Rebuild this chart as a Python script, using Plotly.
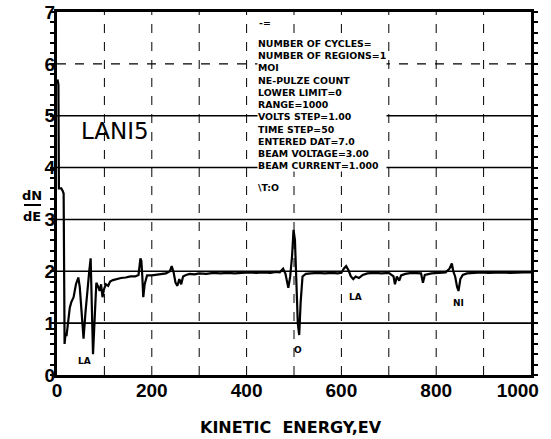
import plotly.graph_objects as go

# ---- data ----
energy = [1, 3, 4, 9, 12, 14, 16, 18, 20, 23, 27, 30, 35, 40, 45, 48, 52, 56, 60, 64, 68, 71, 73, 76, 79,
          83, 87, 90, 93, 96, 99, 103, 108, 112, 118, 125, 135, 145, 155, 165, 172, 176, 178, 180, 182,
          185, 190, 200, 210, 220, 230, 238, 242, 246, 250, 254, 258, 262, 266, 272, 280, 290, 300, 315,
          330, 345, 360, 375, 390, 405, 420, 435, 450, 462, 470, 477, 482, 488, 492, 496, 499, 502, 505,
          508, 511, 514, 518, 525, 535, 550, 565, 580, 592, 600, 605, 610, 615, 620, 625, 630, 637, 645,
          655, 670, 685, 700, 710, 713, 717, 722, 726, 735, 748, 760, 768, 772, 776, 790, 805, 820, 828,
          833, 836, 840, 844, 847, 851, 856, 865, 880, 895, 910, 925, 940, 955, 970, 985, 1000]
dnde = [5.7, 5.6, 3.6, 3.6, 3.55, 3.5, 0.6, 0.8, 0.75, 1.0, 1.3, 1.4, 1.5, 1.75, 1.88, 1.7, 1.2, 0.7, 1.2,
        1.7, 2.0, 2.25, 1.6, 0.4, 1.0, 1.78, 1.7, 1.62, 1.75, 1.5, 1.65, 1.75, 1.72, 1.8, 1.83, 1.85,
        1.87, 1.88, 1.9, 1.9, 1.93, 2.25, 2.2, 1.9, 1.5, 1.75, 1.92, 1.92, 1.93, 1.95, 1.96, 2.0, 2.1,
        1.98, 1.78, 1.72, 1.85, 1.75, 1.9, 1.93, 1.95, 1.94, 1.96, 1.95, 1.97, 1.96, 1.97, 1.96, 1.97,
        1.98, 1.97, 1.98, 1.97, 1.99, 1.98, 2.05, 1.95, 1.68, 1.9, 2.3, 2.8, 2.6, 1.8, 1.0, 0.77, 1.4,
        1.9, 1.95, 1.96, 1.97, 1.96, 1.97, 1.96, 1.97, 2.05, 2.1, 2.02, 1.9, 1.85, 1.9, 1.87, 1.93, 1.96,
        1.97, 1.96, 1.97, 1.9, 1.75, 1.9, 1.82, 1.92, 1.95, 1.97, 1.97, 1.96, 1.78, 1.93, 1.96, 1.97,
        1.98, 2.05, 2.15, 2.0, 1.9, 1.7, 1.62, 1.85, 1.93, 1.96, 1.97, 1.98, 1.97, 1.98, 1.98, 1.97,
        1.98, 1.98, 1.98]

x_tick_vals = [0, 200, 400, 600, 800, 1000]
x_tick_text = ["0", "200", "400", "600", "800", "1000\u00a0\u00a0\u00a0\u00a0\u00a0"]
x_grid_vals = [100, 200, 300, 400, 500, 600, 700, 800, 900]
y_tick_vals = [0, 1, 2, 3, 4, 5, 6, 7]
y_grid_solid = [1, 2, 3, 4, 5]
y_grid_dashed = [6]

info_lines = ["NUMBER OF CYCLES=", "NUMBER OF REGIONS=1", "MOI", "NE-PULZE COUNT", "LOWER LIMIT=0",
              "RANGE=1000", "VOLTS STEP=1.00", "TIME STEP=50", "ENTERED DAT=7.0",
              "BEAM VOLTAGE=3.00", "BEAM CURRENT=1.000"]
peak_labels = [("LA", 630, 1.5), ("NI", 846, 1.39), ("O", 508, 0.48), ("LA", 57, 0.27)]

# ---- figure ----
W, H = 551, 439
L, R, T, B = 57, 20, 12, 64
pw, ph = W - L - R, H - T - B
ymax = 7.0

def py(px):  # pixel row -> data y
    return ymax * (H - B - px) / ph

def px_x(px):  # pixel col -> data x
    return 1000 * (px - L) / pw

def pap_x(px):
    return (px - L) / pw

def pap_y(px):
    return (H - B - px) / ph

fig = go.Figure()
fig.add_trace(go.Scatter(x=energy, y=dnde, mode="lines",
                         line=dict(color="black", width=2.2), showlegend=False))

shapes = []
for v in x_grid_vals:
    shapes.append(dict(type="line", xref="x", yref="y", x0=v, x1=v, y0=0, y1=ymax,
                       line=dict(color="black", width=1, dash="dash"), layer="below"))
for v in y_grid_solid:
    shapes.append(dict(type="line", xref="x", yref="y", x0=0, x1=1000, y0=v, y1=v,
                       line=dict(color="black", width=1.6), layer="below"))
for v in y_grid_dashed:
    shapes.append(dict(type="line", xref="x", yref="y", x0=0, x1=1000, y0=v, y1=v,
                       line=dict(color="black", width=1.2, dash="dash"), layer="below"))
# fraction bar for dN/dE
shapes.append(dict(type="line", xref="paper", yref="paper",
                   x0=pap_x(24), x1=pap_x(41), y0=pap_y(205), y1=pap_y(205),
                   line=dict(color="black", width=2)))

txt_font = dict(family="DejaVu Sans", size=9.4, color="black")
annotations = []
annotations.append(dict(x=px_x(257), y=py(37), xref="x", yref="y",
                        text="<br>".join("<b>%s</b>" % t for t in info_lines),
                        showarrow=False, xanchor="left", yanchor="top", align="left",
                        font=txt_font, bgcolor="white", borderpad=0))
annotations.append(dict(x=px_x(257), y=py(22), xref="x", yref="y", text="<b>-=</b>", showarrow=False,
                        xanchor="left", yanchor="middle", font=txt_font))
annotations.append(dict(x=px_x(257), y=py(187), xref="x", yref="y", text="<b>\\T:O</b>", showarrow=False,
                        xanchor="left", yanchor="middle", font=txt_font, bgcolor="white", borderpad=0))
annotations.append(dict(x=122, y=4.7, xref="x", yref="y", text="LANI5", showarrow=False,
                        xanchor="center", yanchor="middle",
                        font=dict(family="DejaVu Sans", size=23, color="black")))
for t, xx, yy in peak_labels:
    annotations.append(dict(x=xx, y=yy, xref="x", yref="y", text="<b>%s</b>" % t, showarrow=False,
                            xanchor="center", yanchor="middle",
                            font=dict(family="DejaVu Sans", size=9, color="black")))
annotations.append(dict(x=pap_x(31.5), y=pap_y(195), xref="paper", yref="paper",
                        xanchor="center", yanchor="middle",
                        text="<b>dN</b>", showarrow=False, font=dict(family="DejaVu Sans", size=13, color="black")))
annotations.append(dict(x=pap_x(31.5), y=pap_y(216), xref="paper", yref="paper",
                        xanchor="center", yanchor="middle",
                        text="<b>dE</b>", showarrow=False, font=dict(family="DejaVu Sans", size=13, color="black")))
annotations.append(dict(x=pap_x(291), y=pap_y(427), xref="paper", yref="paper",
                        xanchor="center", yanchor="middle",
                        text="<b>KINETIC  ENERGY,EV</b>", showarrow=False,
                        font=dict(family="DejaVu Sans", size=16, color="black")))

tick_font = dict(family="Liberation Sans", size=19, color="black", weight="bold")
fig.update_layout(
    width=W, height=H, margin=dict(l=L, r=R, t=T, b=B, autoexpand=False),
    paper_bgcolor="white", plot_bgcolor="white",
    shapes=shapes, annotations=annotations,
    xaxis=dict(range=[0, 1000], tickvals=x_tick_vals, ticktext=x_tick_text, showgrid=False, zeroline=False,
               showline=True, linecolor="black", linewidth=3, mirror=True, automargin=False,
               ticks="", ticklabelstandoff=-4, ticklabeloverflow="allow", tickfont=tick_font),
    yaxis=dict(range=[0, ymax], tickvals=y_tick_vals, showgrid=False, zeroline=False,
               showline=True, linecolor="black", linewidth=3, mirror="allticks", automargin=False,
               ticks="outside", ticklen=4, tickwidth=2, tickcolor="black", ticklabeloverflow="allow",
               ticklabelstandoff=-9,
               minor=dict(dtick=0.2, ticks="outside", ticklen=4, tickwidth=2, tickcolor="black", showgrid=False),
               tickfont=tick_font),
)
fig.write_html("out.html")
